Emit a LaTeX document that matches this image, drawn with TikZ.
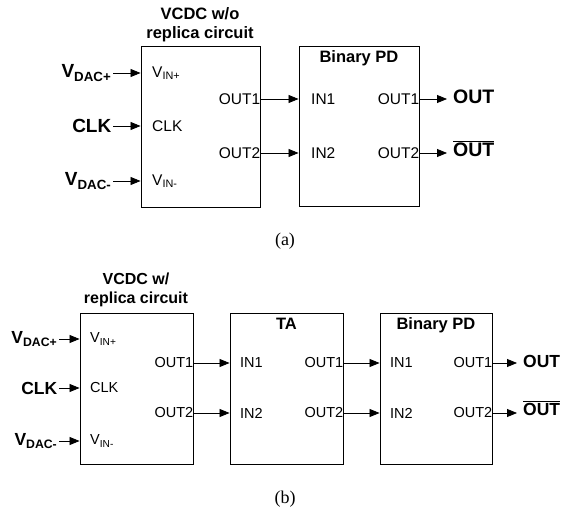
\documentclass[tikz,border=0pt]{standalone}
\usepackage{fontspec}
\setmainfont{Liberation Sans}
\newfontfamily\capfont{Liberation Serif}
\usetikzlibrary{arrows.meta, positioning}

\begin{document}
\begin{tikzpicture}[x=1pt, y=-1pt,
  blk/.style={draw, line width=0.9pt, inner sep=0pt},
  port/.style={inner sep=0pt, font=\fontsize{15.5}{15.5}\selectfont},
  sig/.style={inner sep=1.5pt, font=\fontsize{19}{19}\selectfont\bfseries},
  outlbl/.style={sig, inner sep=0pt, anchor=west},
  ttl/.style={align=center, inner sep=0pt, font=\fontsize{16.5}{19}\selectfont\bfseries},
  wire/.style={line width=0.8pt, -{Triangle[length=10pt,width=8pt]}},
  subcap/.style={font=\fontsize{18}{18}\capfont}]
  \useasboundingbox (0,0) rectangle (568,514);

  % (a) VCDC without replica
  \node[blk, minimum width=119pt, minimum height=161pt] (a-vcdc) at (200.5,126.5) {};
  \node[blk, minimum width=120pt, minimum height=160pt] (a-pd) at (359,126) {};
  \node[ttl] (a-vcdc-t) at (200,25) {VCDC w/o\\replica circuit};
  \node[ttl, below=5pt of a-pd.north] (a-pd-t) {Binary PD};
  \foreach \y/\n/\txt/\prt in {73/vp/V\textsubscript{DAC+}/V\textsubscript{IN+},
      126/clk/CLK/CLK, 181/vn/V\textsubscript{DAC-}/V\textsubscript{IN-}}
  {
    \node[sig, anchor=east] (a-\n) at (113,\y) {\txt};
    \node[port, anchor=west] (a-\n-p) at (152,\y) {\prt};
    \draw[wire] (a-\n.east) -- (a-\n.east -| a-vcdc.west);
  }
  \foreach \y/\k in {99/1, 153/2}
  {
    \node[port, anchor=east] (a-o\k) at (a-vcdc.east |- 0,\y) {OUT\k};
    \node[port, anchor=west] (a-i\k) at (311,\y) {IN\k};
    \node[port, anchor=east] (a-q\k) at (a-pd.east |- 0,\y) {OUT\k};
    \draw[wire] (a-o\k.east) -- (a-pd.west |- a-o\k);
  }
  \node[outlbl, font=\fontsize{19.5}{19.5}\selectfont\bfseries] (a-out) at (453,97) {OUT};
  \node[outlbl, font=\fontsize{19.5}{19.5}\selectfont\bfseries] (a-outb) at (453,149) {$\overline{\mbox{OUT}}$};
  \draw[wire] (a-q1.east) -- ([xshift=-6pt]a-out.west |- a-q1);
  \draw[wire] (a-q2.east) -- ([xshift=-6pt]a-outb.west |- a-q2);
  \node[subcap] (a-cap) at (285,241) {(a)};

  % (b) VCDC with replica, TA in between
  \begin{scope}[port/.append style={font=\fontsize{14.5}{14.5}\selectfont},
                sig/.append style={font=\fontsize{17.5}{17.5}\selectfont\bfseries}]
  \node[blk, minimum width=113pt, minimum height=151pt] (b-vcdc) at (136.5,388.5) {};
  \node[blk, minimum width=113pt, minimum height=151pt] (b-ta) at (286.5,388.5) {};
  \node[blk, minimum width=112pt, minimum height=151pt] (b-pd) at (436,388.5) {};
  \node[ttl, font=\fontsize{16}{19}\selectfont\bfseries] (b-vcdc-t) at (136,290) {VCDC w/\\replica circuit};
  \node[ttl, below=5pt of b-ta.north] (b-ta-t) {TA};
  \node[ttl, below=5pt of b-pd.north] (b-pd-t) {Binary PD};
  \foreach \y/\n/\txt/\prt in {339/vp/V\textsubscript{DAC+}/V\textsubscript{IN+},
      388/clk/CLK/CLK, 441/vn/V\textsubscript{DAC-}/V\textsubscript{IN-}}
  {
    \node[sig, anchor=east] (b-\n) at (59,\y) {\txt};
    \node[port, anchor=west] (b-\n-p) at (90,\y) {\prt};
    \draw[wire] (b-\n.east) -- (b-\n.east -| b-vcdc.west);
  }
  \foreach \y/\k in {363/1, 413/2}
  {
    \node[port, anchor=east] (b-o\k) at (b-vcdc.east |- 0,\y) {OUT\k};
    \node[port, anchor=west] (b-ti\k) at (240,\y) {IN\k};
    \node[port, anchor=east] (b-to\k) at (b-ta.east |- 0,\y) {OUT\k};
    \node[port, anchor=west] (b-pi\k) at (390,\y) {IN\k};
    \node[port, anchor=east] (b-po\k) at (b-pd.east |- 0,\y) {OUT\k};
    \draw[wire] (b-o\k.east) -- (b-ta.west |- b-o\k);
    \draw[wire] (b-to\k.east) -- (b-pd.west |- b-to\k);
  }
  \node[outlbl] (b-out) at (523,361) {OUT};
  \node[outlbl] (b-outb) at (523,408) {$\overline{\mbox{OUT}}$};
  \draw[wire] (b-po1.east) -- ([xshift=-6pt]b-out.west |- b-po1);
  \draw[wire] (b-po2.east) -- ([xshift=-6pt]b-outb.west |- b-po2);
  \end{scope}
  \node[subcap] (b-cap) at (285,499) {(b)};
\end{tikzpicture}
\end{document}
